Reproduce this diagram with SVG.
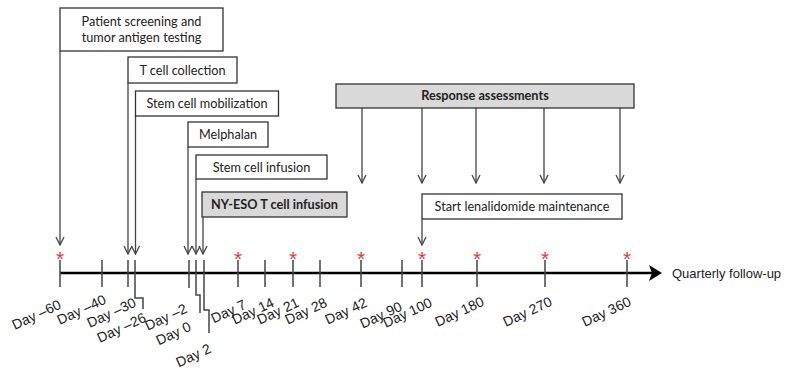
<svg xmlns="http://www.w3.org/2000/svg" width="785" height="371" viewBox="0 0 785 371">
<style>
.box{fill:#fff;stroke:#333;stroke-width:1.3}
.gbox{fill:#d9d9d9;stroke:#333;stroke-width:1.3}
.bt{font-family:Lato,"Open Sans",sans-serif;font-size:12.7px;fill:#222;text-anchor:middle}
.bb{font-weight:bold}
.conn{stroke:#444;stroke-width:1.3;fill:none}
.tick{stroke:#444;stroke-width:1.5;fill:none}
.lab{font-family:"Liberation Sans",Arial,sans-serif;font-size:14px;fill:#222;text-anchor:end}
.star{font-family:"Liberation Sans",Arial,sans-serif;font-size:21px;fill:#e8383a;text-anchor:middle}
</style>
<defs>
<marker id="ah" viewBox="0 0 10 10" refX="9" refY="5" markerWidth="10" markerHeight="10" markerUnits="userSpaceOnUse" orient="auto">
<path d="M1,1 L9,5 L1,9" fill="none" stroke="#444" stroke-width="1.3"/>
</marker>
</defs>
<rect width="785" height="371" fill="#fff"/>

<g id="timeline">
<line x1="60" y1="273" x2="655" y2="273" stroke="#000" stroke-width="2.5"/>
<polygon points="649,265 662,273 649,281 652,273" fill="#000"/>
<text x="672" y="278" font-family="'Liberation Sans',Arial,sans-serif" font-size="13" fill="#222">Quarterly  follow-up</text>
<g class="tick">
<line x1="60" y1="260" x2="60" y2="287"/>
<line x1="102" y1="260" x2="102" y2="287"/>
<line x1="128" y1="260" x2="128" y2="287"/>
<polyline points="135,260 135,298 143,298 143,309"/>
<line x1="189" y1="260" x2="189" y2="288"/>
<polyline points="196,260 196,295 200,295 200,313"/>
<polyline points="204,260 204,310 209,310 209,333"/>
<line x1="238" y1="260" x2="238" y2="287"/>
<line x1="265" y1="260" x2="265" y2="287"/>
<line x1="293" y1="260" x2="293" y2="287"/>
<line x1="320" y1="260" x2="320" y2="287"/>
<line x1="361" y1="260" x2="361" y2="287"/>
<line x1="402" y1="260" x2="402" y2="287"/>
<line x1="422" y1="260" x2="422" y2="287"/>
<line x1="477" y1="260" x2="477" y2="287"/>
<line x1="545" y1="260" x2="545" y2="287"/>
<line x1="627" y1="260" x2="627" y2="287"/>
</g>
<g class="star">
<text x="60" y="266">*</text>
<text x="238" y="266">*</text>
<text x="293" y="266">*</text>
<text x="361" y="266">*</text>
<text x="422" y="266">*</text>
<text x="477" y="266">*</text>
<text x="545" y="266">*</text>
<text x="627" y="266">*</text>
</g>
<g class="lab">
<text transform="translate(62,308) rotate(-25)">Day –60</text>
<text transform="translate(107,303) rotate(-25)">Day –40</text>
<text transform="translate(137,306) rotate(-25)">Day –30</text>
<text transform="translate(147,321) rotate(-25)">Day –26</text>
<text transform="translate(188,312) rotate(-25)">Day –2</text>
<text transform="translate(192,330) rotate(-25)">Day 0</text>
<text transform="translate(212,352) rotate(-25)">Day 2</text>
<text transform="translate(247,308) rotate(-25)">Day 7</text>
<text transform="translate(275,306) rotate(-25)">Day 14</text>
<text transform="translate(300,306) rotate(-25)">Day 21</text>
<text transform="translate(328,306) rotate(-25)">Day 28</text>
<text transform="translate(368,306) rotate(-25)">Day 42</text>
<text transform="translate(403,310) rotate(-25)">Day 90</text>
<text transform="translate(433,306) rotate(-25)">Day 100</text>
<text transform="translate(485,305) rotate(-25)">Day 180</text>
<text transform="translate(553,305) rotate(-25)">Day 270</text>
<text transform="translate(632,305) rotate(-25)">Day 360</text>
</g>
</g>

<g id="connectors">
<line class="conn" x1="60" y1="51" x2="60" y2="245" marker-end="url(#ah)"/>
<line class="conn" x1="128" y1="83" x2="128" y2="254" marker-end="url(#ah)"/>
<line class="conn" x1="135.5" y1="116" x2="135.5" y2="254" marker-end="url(#ah)"/>
<line class="conn" x1="188" y1="147" x2="188" y2="254" marker-end="url(#ah)"/>
<line class="conn" x1="196" y1="179" x2="196" y2="254" marker-end="url(#ah)"/>
<line class="conn" x1="203" y1="217" x2="203" y2="254" marker-end="url(#ah)"/>
<line class="conn" x1="362" y1="108" x2="362" y2="183" marker-end="url(#ah)"/>
<line class="conn" x1="422" y1="108" x2="422" y2="183" marker-end="url(#ah)"/>
<line class="conn" x1="476" y1="108" x2="476" y2="183" marker-end="url(#ah)"/>
<line class="conn" x1="544" y1="108" x2="544" y2="183" marker-end="url(#ah)"/>
<line class="conn" x1="620" y1="108" x2="620" y2="183" marker-end="url(#ah)"/>
<line class="conn" x1="422" y1="219" x2="422" y2="245" marker-end="url(#ah)"/>
</g>

<g id="screening">
<rect class="box" x="60" y="8" width="163" height="43"/>
<text class="bt" x="141.5" y="26">Patient screening and</text>
<text class="bt" x="141.5" y="42">tumor  antigen testing</text>
</g>
<g id="tcell-collection">
<rect class="box" x="128" y="57" width="109" height="26"/>
<text class="bt" x="182.5" y="75">T cell collection</text>
</g>
<g id="stemcell-mobilization">
<rect class="box" x="135.5" y="91" width="143" height="25"/>
<text class="bt" x="207" y="108">Stem cell mobilization</text>
</g>
<g id="melphalan">
<rect class="box" x="188" y="122" width="80" height="25"/>
<text class="bt" x="228" y="139">Melphalan</text>
</g>
<g id="stemcell-infusion">
<rect class="box" x="196" y="155" width="131" height="24"/>
<text class="bt" x="261.5" y="172">Stem cell infusion</text>
</g>
<g id="nyeso-infusion">
<rect class="gbox" x="202" y="192" width="145" height="25"/>
<text class="bt bb" x="274.5" y="209">NY-ESO T cell infusion</text>
</g>
<g id="response-assessments">
<rect class="gbox" x="336" y="84" width="298" height="24"/>
<text class="bt bb" x="485" y="100">Response assessments</text>
</g>
<g id="lenalidomide">
<rect class="box" x="422" y="194" width="200" height="25"/>
<text class="bt" x="522" y="211">Start lenalidomide maintenance</text>
</g>
</svg>
